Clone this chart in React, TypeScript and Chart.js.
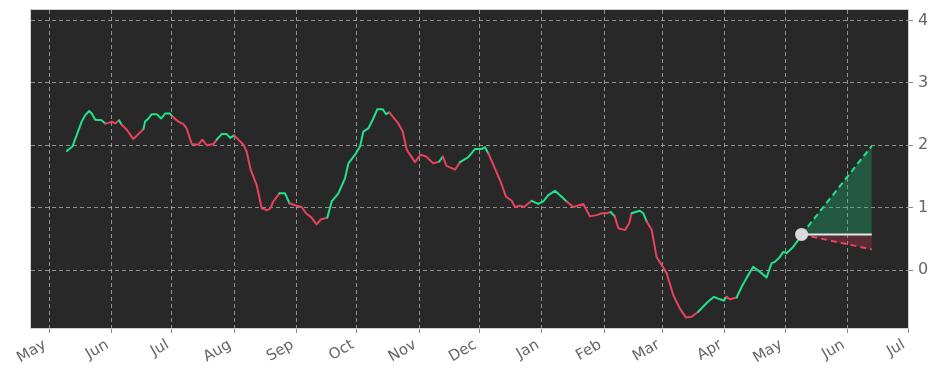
import React, { useEffect, useRef } from "react";
import { Chart, registerables } from "chart.js";

Chart.register(...registerables);

// x positions in days counted from 1 May (2023)
const days = [
  8.8, 11.6, 13.8, 16.2, 17.9, 19.9, 21.2, 22.9, 26.2, 27.8, 29.5, 31.2, 32.8, 34.8, 36.1, 38.6, 41.9, 44.4, 46.9, 47.7,
  49.4, 51, 53.5, 55.7, 57.7, 60.1, 61.3, 64.3, 66.8, 68.4, 70.9, 74.2, 76.2, 78.4, 81.7, 83.3, 85.8, 88.3, 90, 92,
  96.6, 98.2, 100.2, 103.2, 105.7, 108.2, 109.8, 111.5, 114.5, 117.3, 119.5, 123, 125.6, 127.7, 130.5, 133, 135, 138.3, 140.5, 143.8,
  147.1, 148.8, 152.1, 154.6, 156.2, 158.7, 161.2, 163.2, 165.8, 167.5, 169.1, 173.6, 175.8, 177.8, 179.4, 181.9, 184.7, 187.4, 191, 194,
  195.7, 197.6, 201.8, 204.3, 208.4, 211.7, 215, 216.7, 218.4, 220.8, 224.2, 227.1, 230, 231.6, 234.1, 236.1, 239.9, 243.2, 245.7, 248.2,
  251.5, 254, 257.3, 260.6, 265.6, 268.9, 272.2, 274.7, 277.2, 279.2, 281.2, 283, 286.3, 288.4, 289.6, 293.7, 295.4, 297.1, 299.6, 302,
  305.3, 307, 310.3, 313.6, 316.6, 319.4, 322.7, 326.9, 330.5, 333.5, 335.5, 336.8, 338.5, 341.8, 344.3, 346.7, 350, 353.4, 356.7, 359.2,
  360.8, 363.3, 365, 366.6, 369.9, 372.4, 374.1,
];
const values = [
  1.91, 1.98, 2.17, 2.38, 2.48, 2.55, 2.51, 2.41, 2.40, 2.35, 2.36, 2.38, 2.35, 2.40, 2.33, 2.25, 2.10, 2.18, 2.26, 2.38,
  2.43, 2.50, 2.50, 2.43, 2.51, 2.51, 2.46, 2.38, 2.34, 2.27, 2.02, 2.01, 2.09, 2.00, 2.02, 2.09, 2.18, 2.18, 2.12, 2.16,
  2.01, 1.90, 1.61, 1.36, 0.99, 0.96, 0.98, 1.10, 1.23, 1.23, 1.07, 1.03, 1.01, 0.91, 0.84, 0.73, 0.81, 0.84, 1.10, 1.23,
  1.47, 1.71, 1.85, 1.98, 2.22, 2.27, 2.43, 2.58, 2.58, 2.50, 2.53, 2.35, 2.22, 1.93, 1.85, 1.73, 1.85, 1.82, 1.71, 1.74,
  1.82, 1.67, 1.61, 1.73, 1.81, 1.94, 1.94, 1.97, 1.87, 1.69, 1.44, 1.18, 1.11, 1.01, 1.03, 1.01, 1.11, 1.06, 1.10, 1.20,
  1.27, 1.20, 1.10, 1.01, 1.06, 0.86, 0.88, 0.91, 0.91, 0.93, 0.86, 0.67, 0.64, 0.75, 0.91, 0.95, 0.91, 0.78, 0.64, 0.21,
  0.04, -0.05, -0.40, -0.62, -0.76, -0.75, -0.67, -0.53, -0.43, -0.47, -0.49, -0.43, -0.47, -0.44, -0.27, -0.13, 0.05, -0.03, -0.12, 0.11,
  0.13, 0.21, 0.29, 0.27, 0.37, 0.48, 0.57,
];
// 1 = up-trend (green) segment starting at this point, 0 = down-trend (red)
const trend = [
  1, 1, 1, 1, 1, 1, 1, 1, 1, 0, 0, 0, 0, 1, 0, 0, 0, 0, 1, 1,
  1, 1, 1, 1, 1, 1, 0, 0, 0, 0, 0, 0, 0, 0, 0, 1, 1, 1, 1, 0,
  0, 0, 0, 0, 0, 0, 0, 0, 1, 1, 0, 0, 0, 0, 0, 0, 0, 1, 1, 1,
  1, 1, 1, 1, 1, 1, 1, 1, 1, 1, 0, 0, 0, 0, 0, 0, 0, 0, 0, 1,
  0, 0, 0, 1, 1, 1, 1, 1, 0, 0, 0, 0, 0, 0, 0, 0, 1, 1, 1, 1,
  1, 1, 0, 0, 0, 0, 0, 0, 0, 1, 0, 0, 0, 0, 1, 1, 1, 0, 0, 0,
  0, 0, 0, 0, 0, 0, 1, 1, 1, 1, 1, 0, 0, 1, 1, 1, 1, 1, 1, 1,
  1, 1, 1, 1, 1, 1, 1,
];

// forecast cone
const forecastStartDay = 374.1;
const forecastEndDay = 409;
const forecastStartValue = 0.57;
const forecastUpper = 1.99;
const forecastLower = 0.33;

// month ticks (days from 1 May)
const monthTickDays = [0, 31, 61, 92, 123, 153, 184, 214, 245, 276, 305, 336, 366, 397, 427];
const monthTickLabels = ["May", "Jun", "Jul", "Aug", "Sep", "Oct", "Nov", "Dec", "Jan", "Feb", "Mar", "Apr", "May", "Jun", "Jul"];
const yTicks = [0, 1, 2, 3, 4];

const GREEN = "#1fe48c";
const RED = "#e8425e";
const BG = "#282828";
const GRID = "rgba(190,190,190,0.7)";
const TEXT = "#666666";

const bgPlugin = {
  id: "plotBg",
  beforeDraw(chart: any) {
    const { ctx, chartArea: a } = chart;
    ctx.save();
    ctx.fillStyle = BG;
    ctx.fillRect(a.left, a.top, a.right - a.left, a.bottom - a.top);
    ctx.restore();
  },
  afterDraw(chart: any) {
    const { ctx, chartArea: a } = chart;
    ctx.save();
    ctx.strokeStyle = "#d0d0d0";
    ctx.lineWidth = 1;
    ctx.strokeRect(a.left - 0.5, a.top - 0.5, a.right - a.left + 1, a.bottom - a.top + 1);
    ctx.restore();
  },
};

export default function App() {
  const ref = useRef<HTMLCanvasElement | null>(null);

  useEffect(() => {
    if (!ref.current) return;
    const main = days.map((d, i) => ({ x: d, y: values[i] }));
    const chart = new Chart(ref.current, {
      type: "line",
      data: {
        datasets: [
          {
            data: [{ x: forecastStartDay, y: forecastStartValue }],
            showLine: false,
            pointRadius: 6.5,
            pointBackgroundColor: "#d9d9d9",
            pointBorderWidth: 0,
          } as any,
          {
            data: main,
            borderWidth: 2,
            pointRadius: 0,
            borderColor: GREEN,
            borderJoinStyle: "round",
            borderCapStyle: "round",
            segment: {
              borderColor: (c: any) => (trend[c.p0DataIndex] ? GREEN : RED),
            },
          },
          {
            data: [
              { x: forecastStartDay, y: forecastStartValue },
              { x: forecastEndDay, y: forecastStartValue },
            ],
            borderColor: "#e6e6e6",
            borderWidth: 2,
            pointRadius: 0,
          },
          {
            data: [
              { x: forecastStartDay, y: forecastStartValue },
              { x: forecastEndDay, y: forecastUpper },
            ],
            borderColor: GREEN,
            borderWidth: 2,
            borderDash: [6, 4],
            pointRadius: 0,
            fill: { target: 2 },
            backgroundColor: "rgba(25,190,120,0.32)",
          },
          {
            data: [
              { x: forecastStartDay, y: forecastStartValue },
              { x: forecastEndDay, y: forecastLower },
            ],
            borderColor: RED,
            borderWidth: 2,
            borderDash: [6, 4],
            pointRadius: 0,
            fill: { target: 2 },
            backgroundColor: "rgba(230,60,90,0.25)",
          },
        ],
      },
      options: {
        animation: false,
        responsive: false,
        maintainAspectRatio: false,
        layout: { padding: { left: 31, top: 10, right: 0, bottom: 0 } },
        plugins: { legend: { display: false }, tooltip: { enabled: false } },
        scales: {
          x: {
            type: "linear",
            min: -9,
            max: 427,
            afterFit: (s: any) => {
              s.height = 53;
              s.paddingLeft = 0;
              s.paddingRight = 0;
            },
            afterBuildTicks: (s: any) => {
              s.ticks = monthTickDays.map((v) => ({ value: v }));
            },
            ticks: {
              autoSkip: false,
              maxRotation: 30,
              minRotation: 30,
              padding: 3,
              labelOffset: -4,
              color: TEXT,
              font: { family: "DejaVu Sans", size: 15 },
              callback: (v: any) => {
                const i = monthTickDays.indexOf(Number(v));
                return i >= 0 ? monthTickLabels[i] : "";
              },
            },
            grid: {
              color: GRID,
              lineWidth: 1,
              drawTicks: true,
              tickLength: 5,
              tickColor: "#8a8a8a",
            },
            border: { display: false, dash: [4, 3] },
          },
          y: {
            type: "linear",
            position: "right",
            min: -0.93,
            max: 4.17,
            afterFit: (s: any) => {
              s.width = 30;
              s.paddingTop = 0;
              s.paddingBottom = 0;
            },
            afterBuildTicks: (s: any) => {
              s.ticks = yTicks.map((v) => ({ value: v }));
            },
            ticks: {
              padding: 5,
              color: TEXT,
              font: { family: "DejaVu Sans", size: 16 },
              callback: (v: any) => String(v),
            },
            grid: {
              color: GRID,
              lineWidth: 1,
              drawTicks: true,
              tickLength: 5,
              tickColor: "#8a8a8a",
            },
            border: { display: false, dash: [4, 3] },
          },
        },
      },
      plugins: [bgPlugin],
    } as any);
    return () => chart.destroy();
  }, []);

  return (
    <div style={{ position: "fixed", left: 0, top: 0, width: 938, height: 381, background: "#fff" }}>
      <canvas ref={ref} width={938} height={381} style={{ width: 938, height: 381 }} />
    </div>
  );
}
